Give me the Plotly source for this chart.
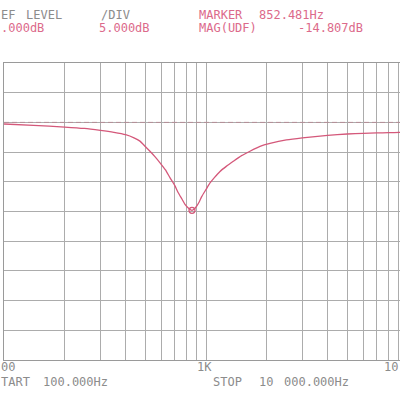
import plotly.graph_objects as go

# trace (Hz, dB)
freq = [100, 140, 200, 250, 300, 350, 400, 440, 471, 500, 528, 560, 592, 630,
        663, 700, 729, 760, 787, 820, 852.481, 875, 899, 925, 952, 1000, 1047,
        1100, 1173, 1260, 1365, 1500, 1651, 1851, 2074, 2500, 3000, 4000, 5000,
        6000, 7000, 8000, 9100, 10000]
mag = [-0.27, -0.50, -0.78, -1.02, -1.35, -1.68, -2.07, -2.60, -3.15, -4.05,
       -4.85, -5.80, -6.80, -8.00, -9.30, -10.60, -11.85, -12.90, -13.80,
       -14.45, -14.807, -14.60, -14.10, -13.40, -12.50, -11.30, -10.20, -9.30,
       -8.25, -7.40, -6.55, -5.60, -4.85, -4.05, -3.55, -2.95, -2.60, -2.19,
       -1.95, -1.85, -1.78, -1.73, -1.69, -1.67]

marker_freq = [852.481]
marker_mag = [-14.807]

ref_level = 0.0
per_div = 5.0
start_hz = 100
stop_hz = 10000

grid_freqs = [100, 200, 300, 400, 500, 600, 700, 800, 900,
              1000, 2000, 3000, 4000, 5000, 6000, 7000, 8000, 9000]

# the scan cuts the outer labels, so only the visible part is written
tick_text = ["00", "1K", "10"]

# plot area in pixels (the right end of the grid is off the scan)
L, T, B = 4, 63, 40
W, H = 396, 297


def px_x(p):
    return (p - L) / W


def px_y(p):
    return (T + H - p) / H


GRAY = "#8c8c8c"
PINK = "#dc6a8b"
CURVE = "#d4587a"
FONT = "DejaVu Sans Mono"

fig = go.Figure()

fig.add_trace(go.Scatter(
    x=[start_hz, stop_hz], y=[ref_level, ref_level], mode="lines",
    line=dict(color="#b48e98", width=1, dash="5px,3px"), hoverinfo="skip"))

fig.add_trace(go.Scatter(
    x=freq, y=mag, mode="lines",
    line=dict(color=CURVE, width=1.3, shape="spline", smoothing=0.5)))

fig.add_trace(go.Scatter(
    x=marker_freq, y=marker_mag, mode="markers",
    marker=dict(symbol="circle-open", size=6, color=CURVE,
                line=dict(width=1.3, color=CURVE))))

# header / footer text, token by token (left edge px, centre px)
texts = [
    ("EF", 0, 15, GRAY), ("LEVEL", 25, 15, GRAY),
    ("/DIV", 100, 15, GRAY),
    ("MARKER", 198, 15, PINK), ("852.481Hz", 258, 15, PINK),
    (".000dB", 0, 28, PINK), ("5.000dB", 98, 28, PINK),
    ("MAG(UDF)", 198, 28, PINK), ("-14.807dB", 297, 28, PINK),
    ("TART", 0, 382, GRAY), ("100.000Hz", 42, 382, GRAY),
    ("STOP", 212, 382, GRAY), ("10", 258, 382, GRAY),
    ("000.000Hz", 283, 382, GRAY),
]
for txt, xl, yc, col in texts:
    fig.add_annotation(text=txt, xref="paper", yref="paper",
                       x=px_x(xl), y=px_y(yc), xanchor="left",
                       yanchor="middle", showarrow=False, borderpad=0,
                       font=dict(family=FONT, size=12, color=col))

# decade labels under the grid: left one flush left, right one flush right
anchors = [("left", px_x(0)), ("center", px_x(204)), ("right", px_x(399))]
for lab, (anc, xp) in zip(tick_text, anchors):
    fig.add_annotation(text=lab, xref="paper", yref="paper",
                       x=xp, y=px_y(367), xanchor=anc, yanchor="middle",
                       showarrow=False, borderpad=0,
                       font=dict(family=FONT, size=12, color=GRAY))

fig.update_xaxes(type="log", range=[2, 2 + W / 202], tickvals=grid_freqs,
                 showticklabels=False, ticks="", showgrid=True,
                 gridcolor="#acacac", gridwidth=0.8, showline=True,
                 linecolor="#9a9a9a", linewidth=1, mirror=True,
                 zeroline=False)
fig.update_yaxes(range=[ref_level - 8 * per_div, ref_level + 2 * per_div],
                 dtick=per_div, showticklabels=False, ticks="",
                 showgrid=True, gridcolor="#acacac", gridwidth=0.8,
                 showline=True, linecolor="#9a9a9a", linewidth=1,
                 zeroline=False)

fig.update_layout(
    width=400, height=400,
    margin=dict(l=L, r=0, t=T, b=B, autoexpand=False),
    paper_bgcolor="white", plot_bgcolor="white",
    showlegend=False,
)

# drop the browser's default body margin so the figure sits at 0,0
fig.write_html("out.html", config={"displayModeBar": False},
               post_script="document.body.style.margin = '0';")
